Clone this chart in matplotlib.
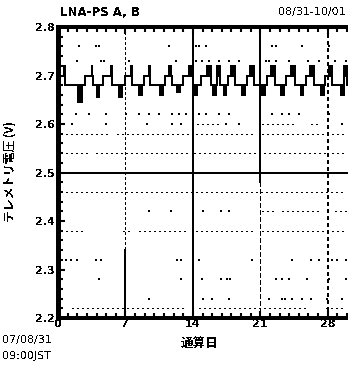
import matplotlib
matplotlib.use("Agg")
import matplotlib.pyplot as plt

plt.rcParams['font.family'] = ['DejaVu Sans', 'Noto Sans CJK JP']
plt.rcParams['text.antialiased'] = False
plt.rcParams['lines.antialiased'] = False
plt.rcParams['patch.antialiased'] = False
plt.rcParams['path.simplify'] = False

# --- telemetry: LNA-PS voltage, days since 07/08/31 09:00 JST ---
# upper toggling blocks (2.70 <-> 2.72): start day, duration
up_days = [0.6, 3.5, 5.5, 7.6, 9.4, 11.5, 13.6, 15.5, 16.5, 18.0, 19.9, 22.1, 24.2, 26.2, 28.1, 29.7]
up_width = [0.10, 0.10, 0.10, 0.12, 0.15, 0.30, 0.40, 0.40, 0.35, 0.40, 0.45, 0.40, 0.40, 0.40, 0.35, 0.30]
# lower toggling blocks (floor <-> 2.68): start day, duration, floor level
lo_days = [2.1, 4.0, 6.3, 8.4, 10.6, 12.3, 14.2, 16.1, 17.2, 19.1, 21.2, 23.1, 25.2, 27.3, 29.4]
lo_width = [0.40, 0.30, 0.35, 0.35, 0.30, 0.40, 0.30, 0.35, 0.30, 0.35, 0.35, 0.35, 0.30, 0.30, 0.30]
lo_floor = [2.645, 2.655, 2.655, 2.660, 2.660, 2.665, 2.660, 2.660, 2.660, 2.660, 2.660, 2.660, 2.660, 2.660, 2.660]

level_high = 2.72
level_mid = 2.70
level_base = 2.68

# sparse quantised samples
dot_days = [2.2, 3.9, 4.3, 11.5, 14.3, 14.6, 15.4, 22.2, 22.6, 25.3, 28.1,
            2.0, 4.5, 4.8, 7.4, 12.2, 14.3, 14.9, 15.7, 16.7, 17.7, 18.8, 21.6, 21.9, 22.6, 24.0, 26.0, 27.1, 28.8, 29.9,
            1.9, 3.2, 5.0, 7.1, 8.4, 9.4, 10.5, 11.8, 12.6, 13.3, 14.6, 15.4, 16.7, 17.7, 22.2, 23.2, 24.0, 25.0, 28.1,
            1.5, 5.0, 9.2, 11.8, 12.8, 17.4, 18.8, 29.5,
            9.4, 11.7, 15.1, 16.9, 17.7,
            0.8, 1.4, 2.0, 3.9, 4.5, 12.3, 12.8, 14.6, 20.1, 24.3, 26.3, 27.1, 28.4, 29.0, 29.9,
            4.3, 12.8, 14.9, 16.9, 17.5, 17.9, 22.6, 23.2, 24.0, 25.8, 28.1, 29.9,
            9.4, 15.1, 16.0, 17.7, 21.9, 23.2, 23.6, 24.3, 25.3, 26.3, 27.9, 29.5]
dot_volts = [2.76] * 11 + [2.73] * 19 + [2.62] * 19 + [2.60] * 8 + [2.42] * 5 + \
            [2.32] * 15 + [2.28] * 12 + [2.24] * 12

# dense runs of samples at one level: start day, end day, level
run_start = [13.9, 21.2, 0.3, 6.1, 14.3, 21.2, 28.4, 0.3, 3.9, 14.1, 28.4, 0.3, 21.2, 23.2, 28.8,
             0.3, 6.7, 8.4, 14.3, 21.2, 1.5, 14.6, 27.8, 26.3]
run_end = [16.7, 24.4, 5.3, 13.6, 20.5, 27.6, 29.9, 3.2, 13.6, 27.8, 29.9, 29.9, 22.6, 27.1, 29.9,
           2.5, 7.4, 13.3, 20.5, 29.9, 13.3, 26.0, 29.9, 27.3]
run_level = [2.60, 2.60, 2.58, 2.58, 2.58, 2.58, 2.58, 2.54, 2.54, 2.54, 2.54, 2.46, 2.42, 2.42, 2.42,
             2.38, 2.38, 2.38, 2.38, 2.38, 2.22, 2.22, 2.22, 2.60]

# weekly marker traces
week_days = [7, 14, 21, 28]
ref_level = 2.50

x_major = [0, 7, 14, 21, 28]
y_major = [2.2, 2.3, 2.4, 2.5, 2.6, 2.7, 2.8]


def build_trace():
    """Step trace: base level, rising to mid before each upper block,
    fast toggling inside the blocks, back to base after each block."""
    events = sorted([(d, w, 'up', None) for d, w in zip(up_days, up_width)] +
                    [(d, w, 'lo', f) for d, w, f in zip(lo_days, lo_width, lo_floor)])
    step = 0.025
    t = [0.0]
    v = [level_base]
    prev_end = 0.0
    for start, width, kind, floor in events:
        if kind == 'up':
            t.append(prev_end + 0.3 * (start - prev_end))
            v.append(level_mid)
            pair = (level_high, level_mid)
        else:
            pair = (floor, level_base)
        n = max(2, int(round(width / step)))
        for k in range(n):
            t.append(start + k * width / n)
            v.append(pair[k % 2])
        t.append(start + width)
        v.append(level_base)
        prev_end = start + width
    t.append(30.1)
    v.append(level_base)
    return t, v


fig = plt.figure(figsize=(3.48, 3.69), dpi=100)
ax = fig.add_axes([58 / 348, 1 - 318 / 369, 1 - 58 / 348, (318 - 27) / 369])

ax.set_xlim(0, 30.1)
ax.set_ylim(2.2, 2.8)

# dense sample runs
for s, e, lv in zip(run_start, run_end, run_level):
    ax.plot([s, e], [lv, lv], color='black', lw=1.0, linestyle=(0, (1.0, 2.2)))

ax.scatter(dot_days, dot_volts, s=2.0, marker='s', color='black', linewidths=0)

# weekly markers
ax.plot([week_days[0]] * 2, [2.8, 2.34], color='black', lw=1.0, linestyle=(0, (2, 2)))
ax.plot([week_days[0]] * 2, [2.34, 2.2], color='black', lw=1.1)
ax.plot([week_days[1]] * 2, [2.8, 2.2], color='black', lw=1.1)
ax.plot([week_days[2]] * 2, [2.8, 2.48], color='black', lw=1.1)
ax.plot([week_days[2]] * 2, [2.48, 2.2], color='black', lw=1.0, linestyle=(0, (3, 2)))
ax.plot([week_days[3]] * 2, [2.8, 2.2], color='black', lw=1.3, linestyle=(0, (2, 2)))

ax.axhline(ref_level, color='black', lw=1.1)

t, v = build_trace()
ax.plot(t, v, color='black', lw=1.2, drawstyle='steps-post')

# axes styling
for side in ['left', 'bottom', 'top']:
    ax.spines[side].set_linewidth(1.6)
ax.spines['left'].set_linewidth(2.4)
ax.spines['right'].set_visible(False)

ax.set_xticks(x_major)
ax.set_xticks(range(0, 31), minor=True)
ax.set_yticks(y_major)
ax.set_yticks([2.2 + 0.02 * i for i in range(31)], minor=True)
ax.set_xticklabels([str(d) for d in x_major], fontsize=8, fontweight='bold')
ax.set_yticklabels(['%.1f' % y for y in y_major], fontsize=8, fontweight='bold')
ax.tick_params(which='both', direction='in', top=True, right=False, width=1.5, colors='black')
ax.tick_params(which='major', length=5, pad=2)
ax.tick_params(which='minor', length=3.5)
ax.tick_params(axis='x', which='major', pad=1)

fig.text(60 / 348, 1 - 13 / 369, 'LNA-PS A, B', fontsize=8.5, fontweight='bold', va='center', ha='left')
fig.text(346 / 348, 1 - 12 / 369, '08/31-10/01', fontsize=8, va='center', ha='right')
fig.text(10 / 348, 1 - 172 / 369, 'テレメトリ電圧 (V)', rotation=90, fontsize=8.5, fontweight='bold',
         va='center', ha='center', family=['Noto Sans CJK JP', 'DejaVu Sans'])
fig.text(200 / 348, 1 - 344 / 369, '通算日', fontsize=9, fontweight='bold',
         va='center', ha='center', family=['Noto Sans CJK JP', 'DejaVu Sans'])
fig.text(2 / 348, 1 - 340 / 369, '07/08/31', fontsize=8, va='center', ha='left')
fig.text(2 / 348, 1 - 356 / 369, '09:00JST', fontsize=8, va='center', ha='left')

fig.savefig('out.png', dpi=100)
